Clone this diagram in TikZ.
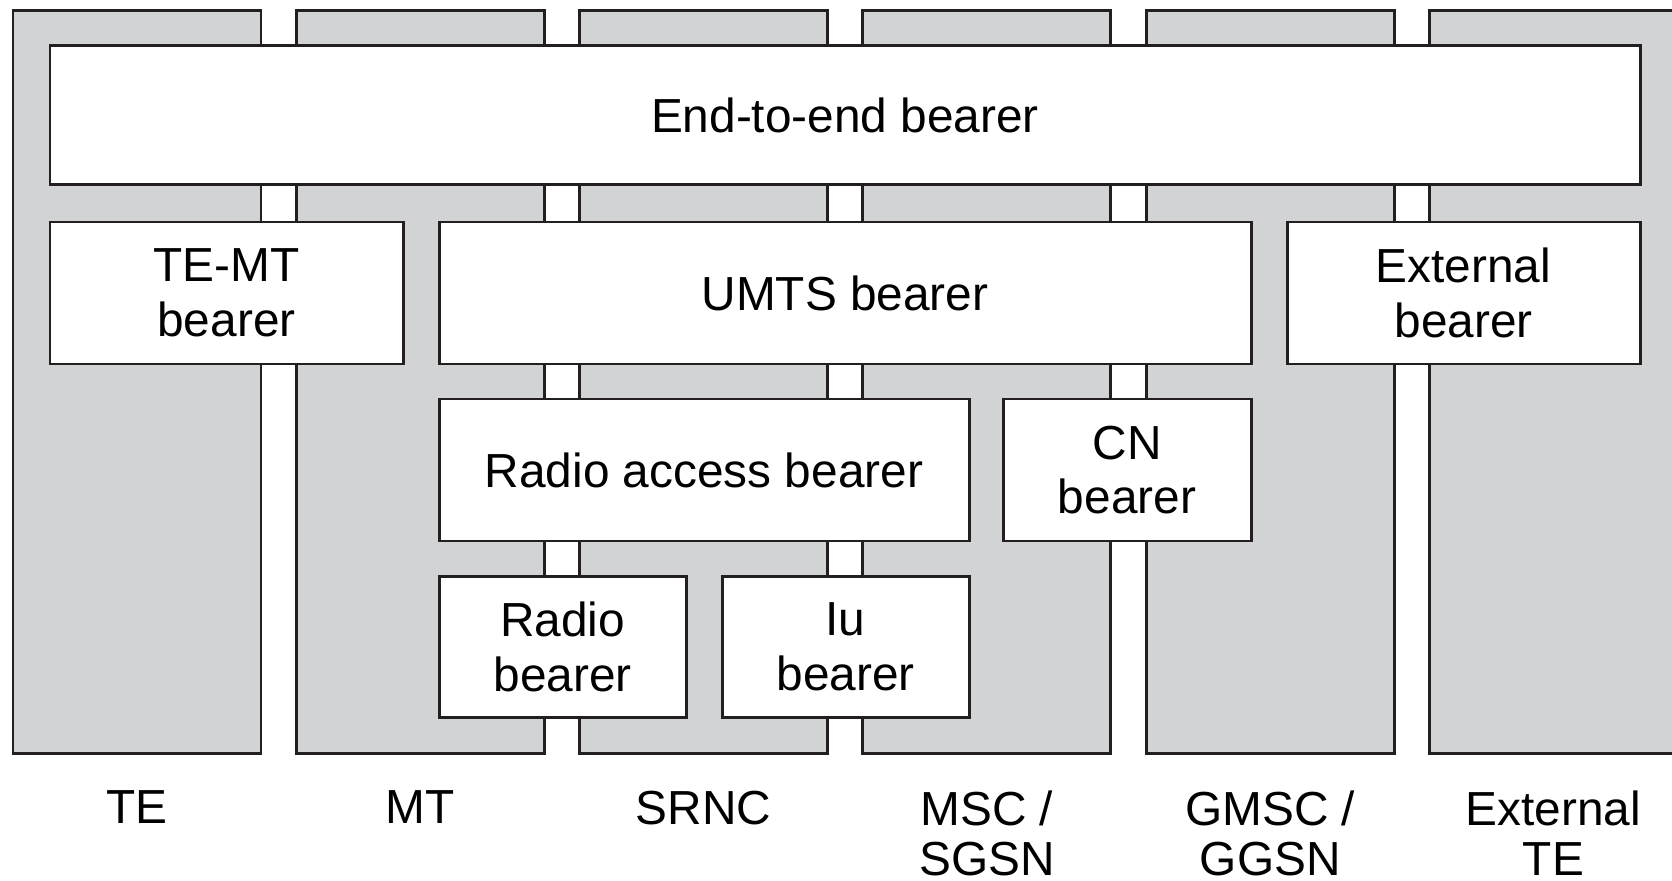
\documentclass[tikz,border=0pt]{standalone}
\usepackage{fontspec}
\setmainfont{Liberation Sans}
\definecolor{colfill}{RGB}{209,211,212}
\definecolor{edge}{RGB}{35,31,32}

\begin{document}
\begin{tikzpicture}[
  bearer/.style={draw=edge,line width=0.85pt,fill=white,inner sep=0pt,align=center,
    font=\fontsize{13.6}{15.6}\selectfont},
  entity/.style={anchor=north,inner sep=0pt,align=center,text depth=0pt,
    font=\fontsize{13.6}{14.2}\selectfont}]
\clip (0,0) rectangle (16.72,8.8);
% network elements
\foreach \i in {0,...,5}
  \draw[draw=edge,line width=0.85pt,fill=colfill] ({0.13+2.833*\i},1.27) rectangle ++(2.48,7.42);
% bearers
\node[bearer,minimum width=15.9cm,minimum height=1.395cm] (e2e) at (8.45,7.65) {End-to-end bearer};
\node[bearer,minimum width=3.53cm,minimum height=1.42cm] (temt) at (2.265,5.87) {TE-MT\\bearer};
\node[bearer,minimum width=8.12cm,minimum height=1.42cm] (umts) at (8.45,5.87) {UMTS bearer};
\node[bearer,minimum width=3.53cm,minimum height=1.42cm] (ext) at (14.635,5.87) {External\\bearer};
\node[bearer,minimum width=5.30cm,minimum height=1.42cm] (rab) at (7.04,4.10) {Radio access bearer};
\node[bearer,minimum width=2.48cm,minimum height=1.42cm] (cn) at (11.27,4.10) {CN\\bearer};
\node[bearer,minimum width=2.47cm,minimum height=1.41cm] (rb) at (5.625,2.33) {Radio\\bearer};
\node[bearer,minimum width=2.47cm,minimum height=1.41cm] (iu) at (8.455,2.33) {Iu\\bearer};
% element names
\node[entity] (te) at (1.37,0.90) {TE};
\node[entity] (mt) at (4.203,0.90) {MT};
\node[entity] (srnc) at (7.036,0.90) {SRNC};
\node[entity] (msc) at (9.869,0.90) {MSC /\\SGSN};
\node[entity] (gmsc) at (12.702,0.90) {GMSC /\\GGSN};
\node[entity] (extte) at (15.535,0.90) {External\\TE};
\end{tikzpicture}
\end{document}
